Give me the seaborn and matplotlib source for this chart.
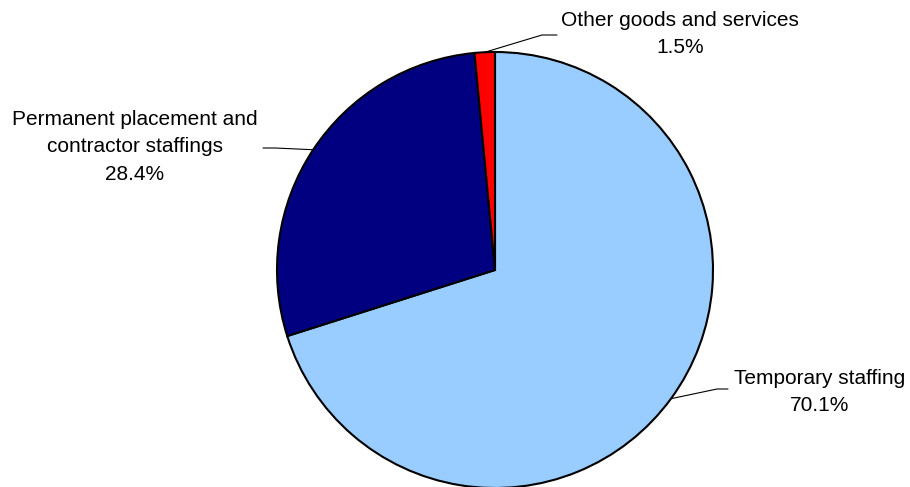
import numpy as np
import matplotlib
matplotlib.use("Agg")
import matplotlib.pyplot as plt
import seaborn as sns

# Revenue breakdown by segment
categories = ["Temporary staffing",
              "Permanent placement and\ncontractor staffings",
              "Other goods and services"]
shares = [70.1, 28.4, 1.5]
colors = ["#99CCFF", "#000080", "#FF0000"]

sns.set_theme(style="white")
plt.rcParams["font.family"] = ["Liberation Sans", "DejaVu Sans"]

W, H = 910, 487
fig = plt.figure(figsize=(W / 100, H / 100), dpi=100)
ax = fig.add_axes([0, 0, 1, 1])

cx, cy, r = 495, H - 270, 218
wedges, _ = ax.pie(shares, colors=colors, startangle=90, counterclock=False,
                   center=(cx, cy), radius=r, frame=True,
                   wedgeprops=dict(edgecolor="black", linewidth=1.5))
ax.set_xlim(0, W)
ax.set_ylim(0, H)
ax.set_aspect("equal")
ax.axis("off")

# label text centre, elbow point and elbow end (in pixel layout coords)
label_pos = [(820, H - 392), (135, H - 147), (680, H - 34)]
elbows = [((717, H - 389), (728, H - 389)),
          ((275, H - 148), (263, H - 148)),
          ((542, H - 35), (557, H - 35))]

for w, name, val, (tx, ty), (e1, e2) in zip(wedges, categories, shares,
                                            label_pos, elbows):
    mid = np.deg2rad((w.theta1 + w.theta2) / 2)
    px, py = cx + r * np.cos(mid), cy + r * np.sin(mid)
    ax.plot([px, e1[0], e2[0]], [py, e1[1], e2[1]], color="black", lw=0.8)
    ax.text(tx, ty, f"{name}\n{val:.1f}%", ha="center", va="center",
            fontsize=15, linespacing=1.55, color="black")

fig.savefig("out.png", dpi=100)
